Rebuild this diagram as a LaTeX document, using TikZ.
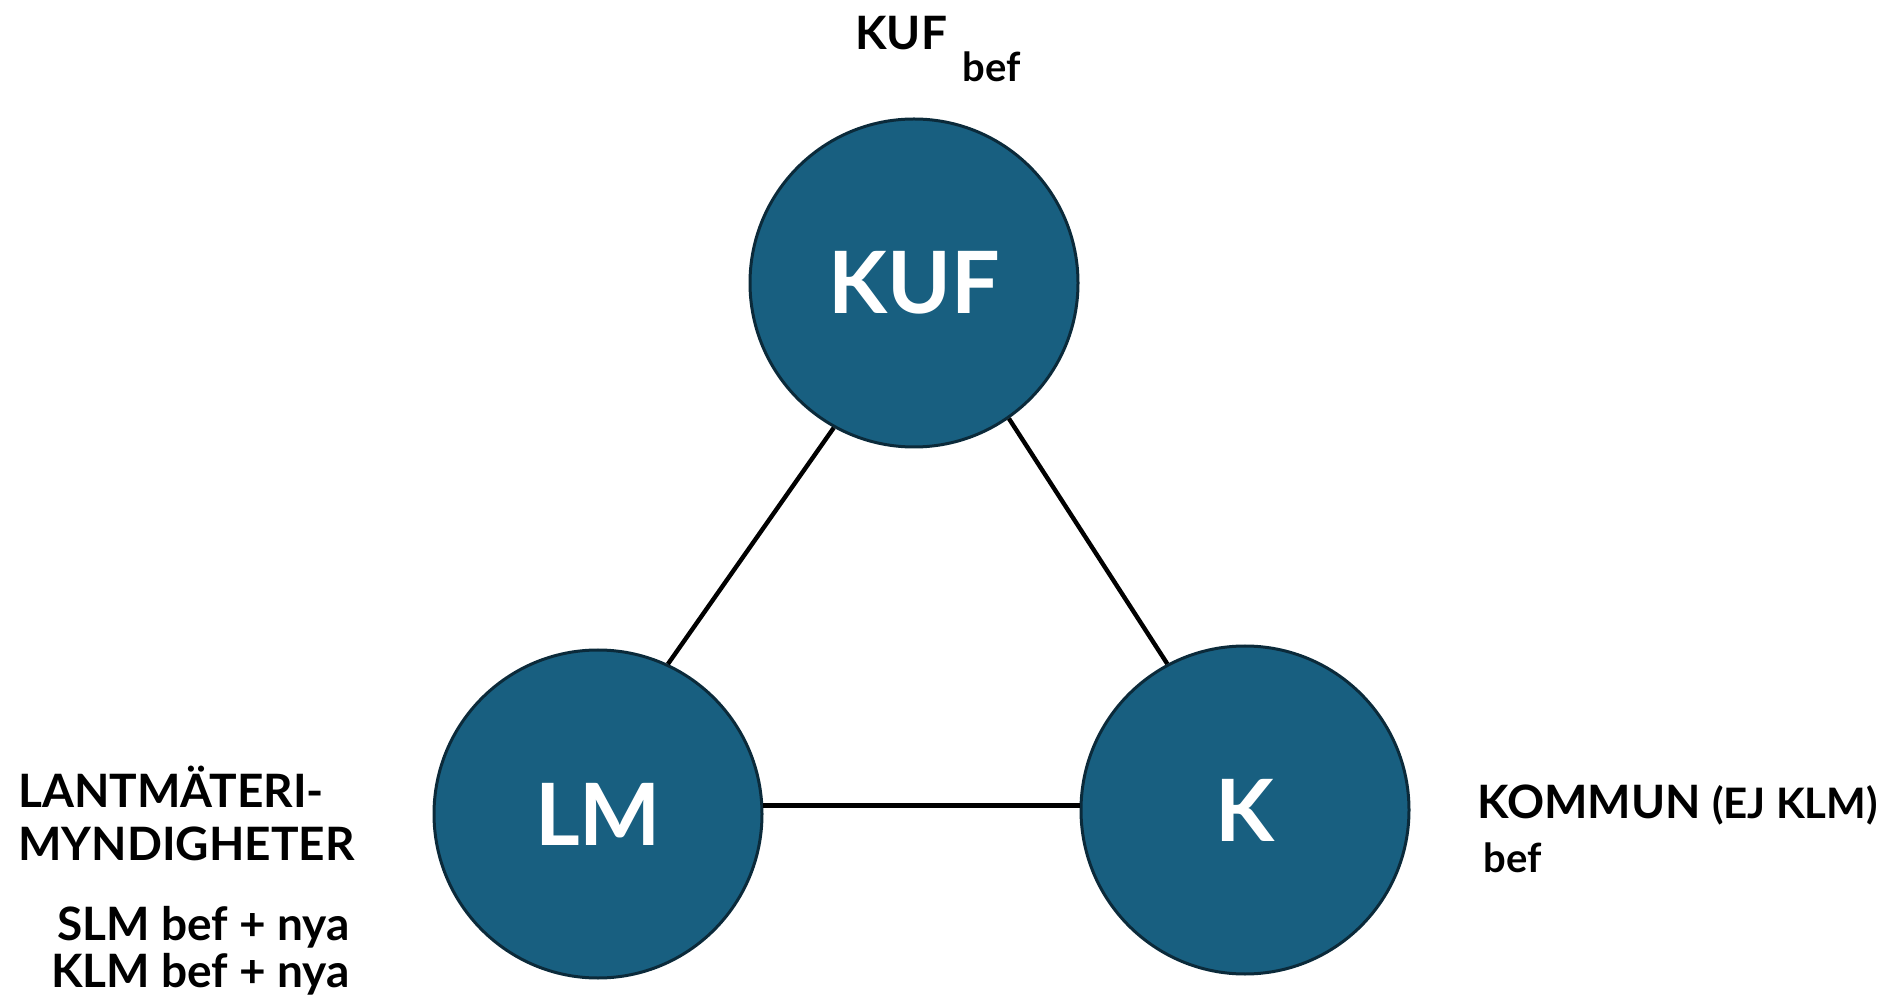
\documentclass[tikz,border=0pt]{standalone}
\usepackage{fontspec}
\setmainfont{Lato}
\definecolor{circfill}{HTML}{185F80}
\definecolor{circedge}{HTML}{0B2A3A}
\tikzset{
  org/.style={circle, fill=circfill, draw=circedge, line width=1.5pt,
    minimum size=164pt, inner sep=0pt, text=white,
    font=\fontsize{43}{43}\selectfont\bfseries},
  link/.style={draw=black, line width=2.2pt},
  lbl/.style={inner sep=0pt, text=black, font=\fontsize{23}{23}\selectfont\bfseries},
  sublbl/.style={inner sep=0pt, text=black, font=\fontsize{20}{20}\selectfont\bfseries}
}
\begin{document}
\begin{tikzpicture}[x=0.5pt,y=-0.5pt]
\useasboundingbox (0,0) rectangle (1901,999);
\node[org] (KUF) at (914,283) {KUF};
\node[org] (LM) at (598,814) {LM};
\node[org] (K) at (1245,810) {K};
\draw[link] (KUF.241) -- (LM.65);
\draw[link] (KUF.305) -- (K.118);
\draw[link] (LM.3) -- (LM.3 -| K.west);
\node[lbl, anchor=base west] (kuft) at (855,50) {KUF};
\node[sublbl, anchor=base west] (kufb) at (962,82) {bef};
\node[lbl, anchor=base west] (lm1) at (18,807) {LANTMÄTERI-};
\node[lbl, anchor=base west] (lm2) at (18,860) {MYNDIGHETER};
\node[lbl, anchor=base east] (lm3) at (350,940) {SLM bef + nya};
\node[lbl, anchor=base east] (lm4) at (350,987) {KLM bef + nya};
\node[lbl, anchor=base west] (k1) at (1477,818) {KOMMUN {\fontsize{21}{21}\selectfont\bfseries (EJ KLM)}};
\node[sublbl, anchor=base west] (k2) at (1483,872) {bef};
\end{tikzpicture}
\end{document}
